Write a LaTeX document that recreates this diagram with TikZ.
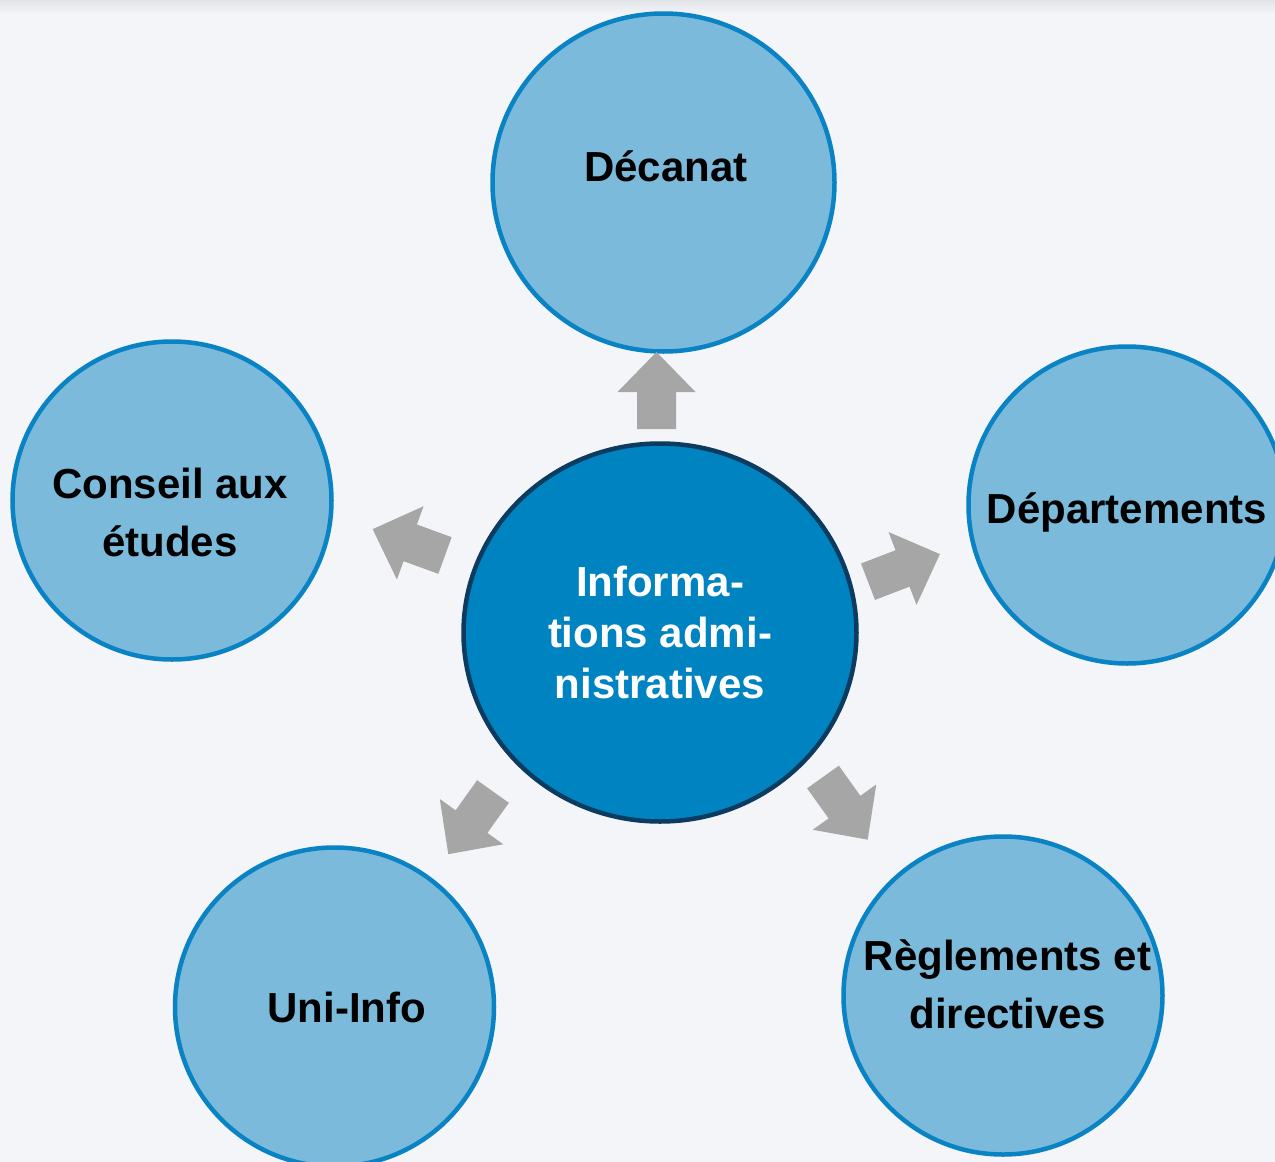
\documentclass[tikz,border=0pt]{standalone}
\usepackage{fontspec}
\setmainfont{Liberation Sans}
\usetikzlibrary{shapes.geometric}
\definecolor{bgcol}{HTML}{F3F5F9}
\definecolor{shadowcol}{HTML}{E2E3E6}
\definecolor{lightfill}{HTML}{7BBADB}
\definecolor{lightline}{HTML}{0A83C4}
\definecolor{hubfill}{HTML}{0083C1}
\definecolor{hubline}{HTML}{0B3B5F}
\definecolor{arrowgray}{HTML}{A6A6A6}
\tikzset{
  outercirc/.style={ellipse, draw=lightline, fill=lightfill, line width=4.5pt, inner sep=0pt},
  hubcirc/.style={ellipse, draw=hubline, fill=hubfill, line width=4.5pt, inner sep=0pt},
  lbl/.style={font=\fontsize{42}{58}\selectfont\bfseries, text=black, align=center, inner sep=0pt, anchor=base},
  hublbl/.style={font=\fontsize{42}{51}\selectfont\bfseries, text=white, align=center, inner sep=0pt, anchor=base},
  blockarrow/.pic={\fill[arrowgray] (0,-19.5) -- (37,-19.5) -- (37,-39) -- (77,0) -- (37,39) -- (37,19.5) -- (0,19.5) -- cycle;}
}
\begin{document}
\begin{tikzpicture}[x=1pt,y=-1pt]
\useasboundingbox (0,0) rectangle (1275,1162);
\clip (0,0) rectangle (1275,1162);
\fill[bgcol] (0,0) rectangle (1275,1162);
\shade[top color=shadowcol, bottom color=bgcol] (0,0) rectangle (1275,14);

% outer circles
\node[outercirc, minimum width=342pt, minimum height=338pt] (dec) at (663.5,182.5) {};
\node[outercirc, minimum width=319pt, minimum height=318pt] (con) at (172,500.5) {};
\node[outercirc, minimum width=317pt, minimum height=317pt] (dep) at (1127,505) {};
\node[outercirc, minimum width=319pt, minimum height=319pt] (uni) at (334.5,1007) {};
\node[outercirc, minimum width=319pt, minimum height=318pt] (reg) at (1003,995.5) {};

% hub
\node[hubcirc, minimum width=393pt, minimum height=378pt] (hub) at (660,632.5) {};

% arrows
\pic[rotate=90] at (656.5,429) {blockarrow};
\pic[rotate=160] at (445,555.5) {blockarrow};
\pic[rotate=21] at (868,581.7) {blockarrow};
\pic[rotate=234.5] at (493,791.5) {blockarrow};
\pic[rotate=305.5] at (823,777) {blockarrow};

% labels (base anchor = baseline of last line)
\node[lbl] (tdec) at (666,181.7) {Décanat};
\node[lbl] (tcon) at (170,556.7) {Conseil aux\\études};
\node[lbl] (tdep) at (1127,523.3) {Départements};
\node[lbl] (tuni) at (346.7,1022.3) {Uni-Info};
\node[lbl] (treg) at (1007.5,1028.5) {Règlements et\\directives};
\node[hublbl] (thub) at (660,698.3) {Informa-\\tions admi-\\nistratives};
\end{tikzpicture}
\end{document}
